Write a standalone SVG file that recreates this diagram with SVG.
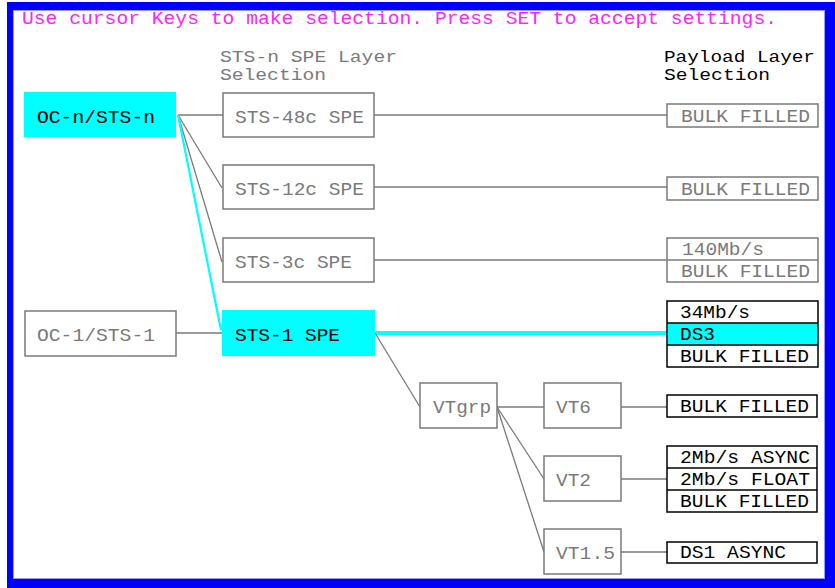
<svg xmlns="http://www.w3.org/2000/svg" width="835" height="588" viewBox="0 0 835 588">
<style>
text{font-family:"Liberation Mono","DejaVu Sans Mono",monospace;font-size:18px}
.h{font-size:16.5px}
.g{fill:#7a7a7a}
.k{fill:#000}
.m{fill:#ff22ff}
.bx{fill:#fff;stroke:#7a7a7a;stroke-width:1.5}
.bk{fill:#fff;stroke:#000;stroke-width:1.5}
.sel{fill:#00ffff;stroke:none}
.ln{stroke:#7a7a7a;stroke-width:1.3;fill:none}
.cy{stroke:#00ffff;fill:none}
</style>
<rect x="0" y="0" width="835" height="588" fill="#fff"/>
<path d="M7 2H835V588H7Z M13 10V579H825V10Z" fill="#0000ff" fill-rule="evenodd"/>
<rect x="13.5" y="10.5" width="811" height="568" fill="none" stroke="#9a9aff" stroke-width="1"/>
<text class="m" x="22" y="24" textLength="755" lengthAdjust="spacingAndGlyphs">Use cursor Keys to make selection. Press SET to accept settings.</text>
<g id="header-sts">
<text class="g h" x="220" y="62" textLength="177" lengthAdjust="spacingAndGlyphs">STS-n SPE Layer</text>
<text class="g h" x="220" y="80" textLength="106" lengthAdjust="spacingAndGlyphs">Selection</text>
</g>
<g id="header-payload">
<text class="k h" x="664" y="62" textLength="151" lengthAdjust="spacingAndGlyphs">Payload Layer</text>
<text class="k h" x="664" y="80" textLength="106" lengthAdjust="spacingAndGlyphs">Selection</text>
</g>
<g id="connectors">
<line class="ln" x1="178" y1="115" x2="223" y2="115"/>
<line class="ln" x1="178" y1="115" x2="222" y2="188"/>
<line class="ln" x1="178" y1="115" x2="222" y2="262"/>
<line class="cy" stroke-width="2.2" x1="178" y1="115" x2="221" y2="330"/>
<line class="ln" x1="176" y1="333" x2="222" y2="333"/>
<line class="ln" x1="374" y1="115" x2="667" y2="115"/>
<line class="ln" x1="374" y1="187" x2="667" y2="187"/>
<line class="ln" x1="374" y1="260" x2="667" y2="260"/>
<line class="cy" stroke-width="4" x1="375" y1="333" x2="667" y2="333"/>
<line class="ln" x1="375" y1="333" x2="420" y2="407"/>
<line class="ln" x1="497" y1="407" x2="544" y2="407"/>
<line class="ln" x1="497" y1="407" x2="544" y2="479"/>
<line class="ln" x1="497" y1="407" x2="544" y2="552"/>
<line class="ln" x1="621" y1="407" x2="667" y2="407"/>
<line class="ln" x1="621" y1="479" x2="667" y2="479"/>
<line class="ln" x1="621" y1="552" x2="667" y2="552"/>
</g>
<g id="oc-n">
<rect class="sel" x="24" y="92" width="152" height="45"/>
<text class="k" x="37" y="123" textLength="118" lengthAdjust="spacingAndGlyphs">OC-n/STS-n</text>
</g>
<g id="oc-1">
<rect class="bx" x="25" y="311" width="151" height="45"/>
<text class="g" x="37" y="341" textLength="118" lengthAdjust="spacingAndGlyphs">OC-1/STS-1</text>
</g>
<g id="sts-48c">
<rect class="bx" x="223" y="93" width="151" height="44"/>
<text class="g" x="235" y="123" textLength="129" lengthAdjust="spacingAndGlyphs">STS-48c SPE</text>
</g>
<g id="sts-12c">
<rect class="bx" x="223" y="165" width="151" height="44"/>
<text class="g" x="235" y="195" textLength="129" lengthAdjust="spacingAndGlyphs">STS-12c SPE</text>
</g>
<g id="sts-3c">
<rect class="bx" x="223" y="238" width="151" height="44"/>
<text class="g" x="235" y="268" textLength="117" lengthAdjust="spacingAndGlyphs">STS-3c SPE</text>
</g>
<g id="sts-1">
<rect class="sel" x="222" y="310" width="153" height="46"/>
<text class="k" x="235" y="341" textLength="105" lengthAdjust="spacingAndGlyphs">STS-1 SPE</text>
</g>
<g id="vtgrp">
<rect class="bx" x="420" y="383" width="77" height="45"/>
<text class="g" x="433" y="413" textLength="58" lengthAdjust="spacingAndGlyphs">VTgrp</text>
</g>
<g id="vt6">
<rect class="bx" x="544" y="383" width="77" height="45"/>
<text class="g" x="556" y="413" textLength="35" lengthAdjust="spacingAndGlyphs">VT6</text>
</g>
<g id="vt2">
<rect class="bx" x="544" y="456" width="77" height="45"/>
<text class="g" x="556" y="486" textLength="35" lengthAdjust="spacingAndGlyphs">VT2</text>
</g>
<g id="vt15">
<rect class="bx" x="544" y="529" width="77" height="45"/>
<text class="g" x="556" y="559" textLength="59" lengthAdjust="spacingAndGlyphs">VT1.5</text>
</g>
<g id="pl-48c">
<rect class="bx" x="667" y="104" width="151" height="23"/>
<text class="g" x="681" y="122" textLength="129" lengthAdjust="spacingAndGlyphs">BULK FILLED</text>
</g>
<g id="pl-12c">
<rect class="bx" x="667" y="177" width="151" height="23"/>
<text class="g" x="681" y="195" textLength="129" lengthAdjust="spacingAndGlyphs">BULK FILLED</text>
</g>
<g id="pl-3c">
<rect class="bx" x="667" y="238" width="151" height="44"/>
<line class="ln" x1="667" y1="260" x2="818" y2="260"/>
<text class="g" x="682" y="255" textLength="82" lengthAdjust="spacingAndGlyphs">140Mb/s</text>
<text class="g" x="681" y="277" textLength="129" lengthAdjust="spacingAndGlyphs">BULK FILLED</text>
</g>
<g id="pl-sts1">
<rect class="bk" x="667" y="301" width="151" height="66"/>
<rect class="sel" x="668" y="323" width="149" height="22"/>
<line stroke="#000" stroke-width="1.5" x1="667" y1="323" x2="818" y2="323"/>
<line stroke="#000" stroke-width="1.5" x1="667" y1="345" x2="818" y2="345"/>
<text class="k" x="680" y="318" textLength="70" lengthAdjust="spacingAndGlyphs">34Mb/s</text>
<text class="k" x="680" y="340" textLength="35" lengthAdjust="spacingAndGlyphs">DS3</text>
<text class="k" x="680" y="362" textLength="129" lengthAdjust="spacingAndGlyphs">BULK FILLED</text>
</g>
<g id="pl-vt6">
<rect class="bk" x="667" y="395" width="150" height="22"/>
<text class="k" x="680" y="412" textLength="129" lengthAdjust="spacingAndGlyphs">BULK FILLED</text>
</g>
<g id="pl-vt2">
<rect class="bk" x="667" y="446" width="150" height="66"/>
<line stroke="#000" stroke-width="1.5" x1="667" y1="468" x2="817" y2="468"/>
<line stroke="#000" stroke-width="1.5" x1="667" y1="490" x2="817" y2="490"/>
<text class="k" x="680" y="463" textLength="130" lengthAdjust="spacingAndGlyphs">2Mb/s ASYNC</text>
<text class="k" x="680" y="485" textLength="130" lengthAdjust="spacingAndGlyphs">2Mb/s FLOAT</text>
<text class="k" x="680" y="507" textLength="129" lengthAdjust="spacingAndGlyphs">BULK FILLED</text>
</g>
<g id="pl-vt15">
<rect class="bk" x="667" y="542" width="150" height="21"/>
<text class="k" x="680" y="558" textLength="106" lengthAdjust="spacingAndGlyphs">DS1 ASYNC</text>
</g>
</svg>
